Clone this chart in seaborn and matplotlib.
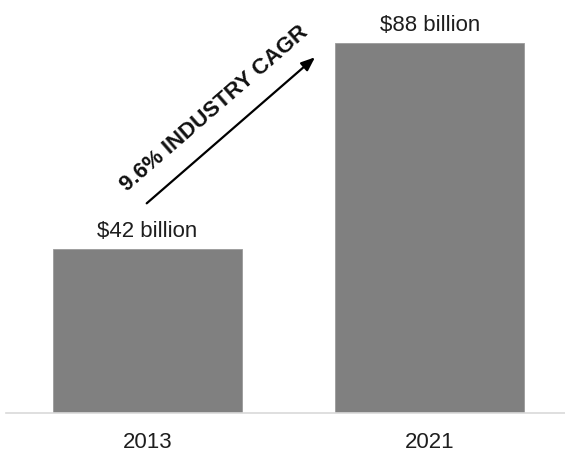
import matplotlib
matplotlib.use("Agg")
import matplotlib.pyplot as plt
import seaborn as sns
import pandas as pd

# Market size data
years = ["2013", "2021"]
market_size = [42, 88]          # $ billion
value_labels = ["$42 billion", "$88 billion"]
cagr_label = "9.6% INDUSTRY CAGR"

sns.set_theme(style="white")
plt.rcParams["font.family"] = ["Liberation Sans", "DejaVu Sans"]

df = pd.DataFrame({"year": years, "size": market_size})

fig = plt.figure(figsize=(5.65, 4.55), dpi=100)
ax = fig.add_axes([6 / 565, 42 / 455, 559 / 565, 413 / 455])

sns.barplot(data=df, x="year", y="size", color="#808080", saturation=1,
            width=0.669, edgecolor="#9a9a9a", linewidth=0.6, ax=ax)

ax.set_xlim(-0.501, 1.478)
ax.set_ylim(5.33, 97.68)

# Value labels above the bars
for i, (v, lab) in enumerate(zip(market_size, value_labels)):
    ax.annotate(lab, xy=(i, v), xytext=(0, 8.8), textcoords="offset points",
                ha="center", va="baseline", fontsize=16, color="#1e1e1e")

# Growth arrow with CAGR annotation
ax.annotate("", xy=(0.5528, 0.8613), xytext=(0.2517, 0.5077),
            xycoords="axes fraction", textcoords="axes fraction",
            arrowprops=dict(arrowstyle="-|>,head_length=0.75,head_width=0.3",
                            mutation_scale=11, lw=1.6, color="black",
                            shrinkA=0, shrinkB=0))
ax.text(0.3721, 0.7361, cagr_label, transform=ax.transAxes, rotation=41,
        rotation_mode="anchor", ha="center", va="center", fontsize=16,
        fontweight="bold", color="#111111")

# Axes styling
ax.set_xlabel("")
ax.set_ylabel("")
ax.set_yticks([])
ax.tick_params(axis="x", length=0, pad=13.5, labelsize=16, labelcolor="#1e1e1e")
for side in ["top", "left", "right"]:
    ax.spines[side].set_visible(False)
ax.spines["bottom"].set_color("#d9d9d9")
ax.spines["bottom"].set_linewidth(1.2)

fig.savefig("out.png", dpi=100)
